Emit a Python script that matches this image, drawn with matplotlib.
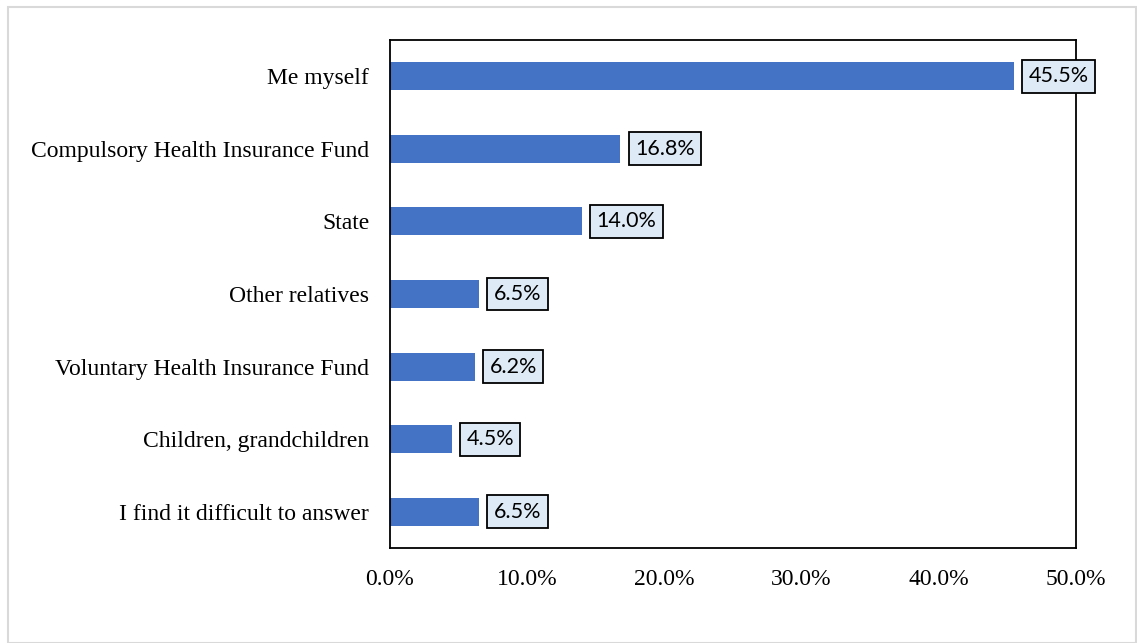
import matplotlib.pyplot as plt
from matplotlib.patches import Rectangle
from matplotlib.ticker import FuncFormatter

categories = [
    "Me myself",
    "Compulsory Health Insurance Fund",
    "State",
    "Other relatives",
    "Voluntary Health Insurance Fund",
    "Children, grandchildren",
    "I find it difficult to answer",
]
shares = [45.5, 16.8, 14.0, 6.5, 6.2, 4.5, 6.5]
xticks = [0, 10, 20, 30, 40, 50]

fig = plt.figure(figsize=(11.37, 6.43), dpi=100)
# light grey frame round the whole chart area
fig.patches.append(Rectangle((8 / 1137, 0), 1 - 9 / 1137, 1 - 7 / 643,
                             transform=fig.transFigure, fill=False,
                             edgecolor="#d9d9d9", linewidth=1.5))

ax = fig.add_axes([390 / 1137, 1 - 548 / 643, 686 / 1137, 508 / 643])
y = list(range(len(categories)))
ax.barh(y, shares, height=0.385, color="#4472C4")

ax.set_xlim(0, 50)
ax.set_ylim(len(categories) - 0.5, -0.5)
ax.set_yticks(y)
ax.set_yticklabels(categories, fontfamily="Liberation Serif", fontsize=17)
ax.set_xticks(xticks)
ax.xaxis.set_major_formatter(FuncFormatter(lambda v, p: f"{v:.1f}%"))
for lbl in ax.get_xticklabels():
    lbl.set_fontfamily("Liberation Serif")
    lbl.set_fontsize(17)
ax.tick_params(length=0)
ax.tick_params(axis="x", pad=15)
ax.tick_params(axis="y", pad=15)
for s in ax.spines.values():
    s.set_linewidth(1.3)
    s.set_color("black")

for yi, v in zip(y, shares):
    ax.annotate(f"{v:.1f}%", xy=(v, yi), xytext=(10.5, 0), textcoords="offset points",
                ha="left", va="center", fontfamily="Lato", fontsize=15.5,
                bbox=dict(boxstyle="square,pad=0.3", facecolor="#DEEBF7",
                          edgecolor="black", linewidth=1.3))

fig.savefig("out.png", dpi=100)
